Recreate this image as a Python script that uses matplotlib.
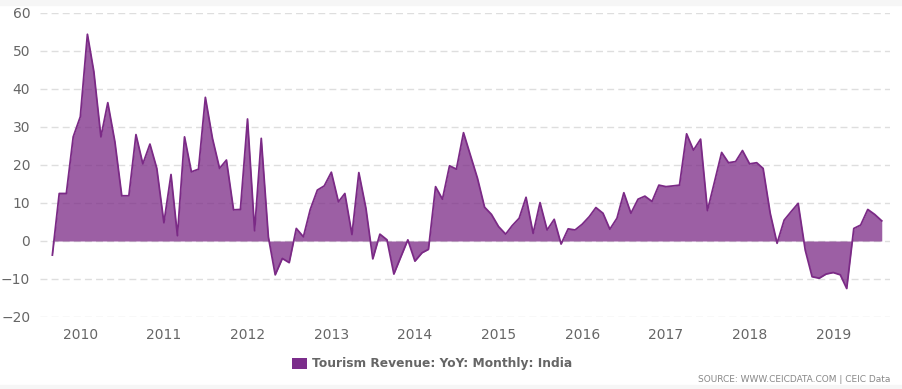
import matplotlib
matplotlib.use("Agg")
import matplotlib.pyplot as plt
import matplotlib.dates as mdates
from matplotlib.patches import Patch, Rectangle
import pandas as pd
import numpy as np

# ---- data ----
start_month = "2009-09-01"
values = [
    -3.7, 12.5, 12.5, 27.4,
    32.7, 54.4, 44.6, 27.4, 36.4, 26.1, 11.9, 11.9, 28.0, 20.3, 25.5, 19.1,
    4.8, 17.5, 1.4, 27.4, 18.2, 18.9, 37.8, 27.0, 19.1, 21.3, 8.2, 8.3,
    32.1, 2.7, 27.0, 1.1, -8.9, -4.6, -5.7, 3.3, 1.1, 8.3, 13.4, 14.5,
    18.1, 10.3, 12.5, 1.7, 18.0, 8.6, -4.7, 1.8, 0.3, -8.7, -4.1, 0.3,
    -5.3, -3.1, -2.2, 14.3, 11.0, 19.8, 18.9, 28.5, 22.4, 16.5, 8.9, 7.0,
    3.8, 1.8, 4.0, 6.0, 11.5, 2.0, 10.1, 2.9, 5.7, -0.8, 3.2, 2.9,
    4.4, 6.4, 8.8, 7.3, 3.1, 6.0, 12.7, 7.3, 11.0, 11.8, 10.4, 14.7,
    14.3, 14.5, 14.7, 28.2, 23.9, 26.8, 8.0, 15.6, 23.3, 20.6, 20.9, 23.8,
    20.3, 20.6, 19.1, 7.3, -0.6, 5.5, 7.7, 9.9, -2.4, -9.4, -9.8, -8.7,
    -8.3, -8.9, -12.5, 3.3, 4.2, 8.3, 7.0, 5.3,
]
year_ticks = list(range(2010, 2020))
y_ticks = [-20, -10, 0, 10, 20, 30, 40, 50, 60]
series_name = "Tourism Revenue: YoY: Monthly: India"
source_text = "SOURCE: WWW.CEICDATA.COM | CEIC Data"

dates = pd.date_range(start_month, periods=len(values), freq="MS")
x = mdates.date2num(dates.to_pydatetime())
y = np.array(values)

line_c = "#7b2a86"
text_c = "#666666"

fig = plt.figure(figsize=(9.02, 3.89), dpi=100)
W, H = 902, 389
ax = fig.add_axes([40 / W, 1 - 317 / H, (890 - 40) / W, (317 - 13) / H])

ax.fill_between(x, y, 0, color=line_c, alpha=0.75, linewidth=0, zorder=2)
ax.plot(x, y, color=line_c, linewidth=1.3, zorder=3)

ax.set_ylim(-20, 60)
ax.set_yticks(y_ticks)
ax.set_xlim(x[0] - 54, x[-1] + 36)
ax.set_xticks([mdates.date2num(pd.Timestamp(f"{yr}-01-01").to_pydatetime()) for yr in year_ticks])
ax.set_xticklabels([str(yr) for yr in year_ticks])

for s in ax.spines.values():
    s.set_visible(False)
ax.tick_params(axis="both", length=0, colors=text_c, labelsize=10)
ax.tick_params(axis="y", pad=7)
ax.tick_params(axis="x", pad=8)
ax.grid(axis="y", color="#dedede", linestyle=(0, (5, 3)), linewidth=1, zorder=0)
ax.set_axisbelow(True)

# bands top and bottom
fig.patches.append(Rectangle((0, 1 - 5 / H), 1, 5 / H, transform=fig.transFigure,
                             color="#f6f6f6", zorder=0))
fig.patches.append(Rectangle((0, 0), 1, 4 / H, transform=fig.transFigure,
                             color="#f6f6f6", zorder=0))

leg = fig.legend(handles=[Patch(facecolor="#7b2d8b", edgecolor="none", label=series_name)],
                 loc="center", bbox_to_anchor=(432 / W, 1 - 364 / H), frameon=False,
                 handlelength=1.25, handleheight=1.0, handletextpad=0.4,
                 prop={"weight": "bold", "size": 8.8})
for t in leg.get_texts():
    t.set_color(text_c)

fig.text(890 / W, 1 - 379 / H, source_text, ha="right", va="center",
         fontsize=6.5, color="#888888")

fig.savefig("out.png", dpi=100)
